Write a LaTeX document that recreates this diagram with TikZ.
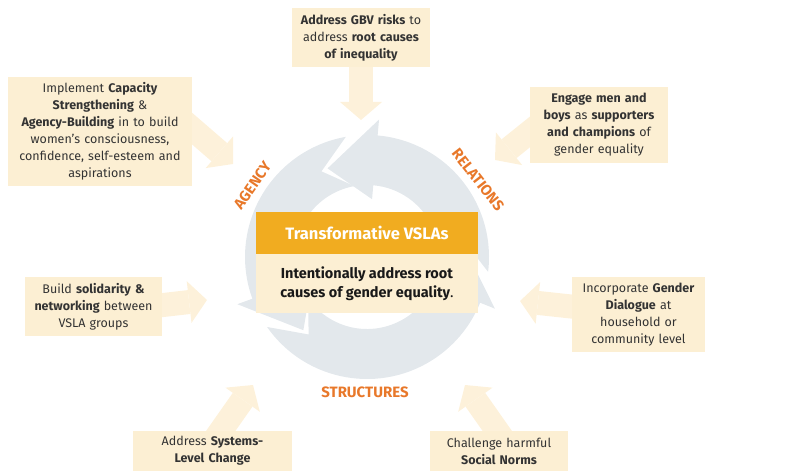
\documentclass[tikz,border=0pt]{standalone}
\usepackage{fontspec}
\setmainfont{Fira Sans}
\usetikzlibrary{arrows.meta,backgrounds}
\definecolor{boxcream}{HTML}{FCEFD3}
\definecolor{arrowcream}{HTML}{FDF1DA}
\definecolor{ringgrey}{HTML}{E3E8EC}
\definecolor{headgold}{HTML}{F1AC20}
\definecolor{lblorange}{HTML}{E8782A}
\definecolor{txtgrey}{HTML}{333333}

\newcommand{\cyclearrow}[2]{%
  \fill[ringgrey] (#1-14:122pt) arc[start angle=#1-14,end angle=#2-29,radius=122pt]
    -- (#2-29:138pt) -- (#2:97pt) -- (#2-29:58pt) -- (#2-29:72pt)
    arc[start angle=#2-29,end angle=#1-14,radius=72pt] -- (#1+4:97pt) -- cycle;}

\begin{document}
\begin{tikzpicture}[x=1pt,y=1pt,
  infobox/.style={fill=boxcream,text=txtgrey,align=center,inner sep=0pt,font=\fontsize{12.5}{17}\selectfont},
  bigarrow/.style={draw=arrowcream,line width=24pt,-{Triangle[length=18pt,width=42pt,line width=0pt,fill=arrowcream]}},
  ringlabel/.style={text=lblorange,inner sep=0pt,font=\fontsize{15}{16}\selectfont\bfseries}]
\useasboundingbox (0,0) rectangle (794,471);

\node[infobox,minimum width=138pt,minimum height=59pt,text width=136pt] (gbv) at (361,433.5)
  {\textbf{Address GBV risks} to\\address \textbf{root causes}\\\textbf{of inequality}};
\node[infobox,minimum width=184pt,minimum height=109pt,text width=182pt] (cap) at (100,339.5)
  {Implement \textbf{Capacity}\\\textbf{Strengthening} \&\\\textbf{Agency-Building} in to build\\women’s consciousness,\\confidence, self-esteem and\\aspirations};
\node[infobox,minimum width=138pt,minimum height=76pt,text width=136pt] (men) at (599,346)
  {\textbf{Engage men and}\\\textbf{boys} as \textbf{supporters}\\\textbf{and champions} of\\gender equality};
\node[infobox,minimum width=137pt,minimum height=59pt,text width=135pt] (sol) at (93.5,164.5)
  {Build \textbf{solidarity \&}\\\textbf{networking} between\\VSLA groups};
\node[infobox,minimum width=133pt,minimum height=75pt,text width=131pt] (dia) at (638.5,156.5)
  {Incorporate \textbf{Gender}\\\textbf{Dialogue} at\\household or\\community level};
\node[infobox,minimum width=159pt,minimum height=40pt,text width=157pt] (sys) at (212.5,20)
  {Address \textbf{Systems-}\\\textbf{Level Change}};
\node[infobox,minimum width=138pt,minimum height=40pt,text width=136pt] (norm) at (499,20)
  {Challenge harmful\\\textbf{Social Norms}};

\node[fill=headgold,text=white,inner sep=0pt,minimum width=222pt,minimum height=42pt,
  font=\fontsize{16.5}{18}\selectfont\bfseries] (head) at (367,238) {Transformative VSLAs};
\node[fill=boxcream,text=black!90,anchor=north,align=center,inner sep=0pt,minimum width=222pt,minimum height=59pt,
  font=\fontsize{14.5}{19.5}\selectfont] (core) at (head.south)
  {\textbf{Intentionally address root}\\\textbf{causes of gender equality}.};

\node[ringlabel,rotate=55] (agency) at (252.5,285.5) {AGENCY};
\node[ringlabel,rotate=-52] (relations) at (478,291) {RELATIONS};
\node[ringlabel] (structures) at (365,79) {STRUCTURES};

\coordinate (gbvtip) at (361,351);
\coordinate (captip) at (233,307);
\coordinate (mentip) at (495,311);
\coordinate (soltip) at (207,171);
\coordinate (diatip) at (520,170);
\coordinate (systip) at (253,86);
\coordinate (normtip) at (465,86);

\begin{scope}[on background layer]
\begin{scope}[shift={(367,214)}]
\cyclearrow{7}{114}
\cyclearrow{114}{229}
\cyclearrow{229}{367}
\end{scope}
\draw[bigarrow] (gbv.south) -- (gbvtip);
\draw[bigarrow] ([shift={(-17,17.5)}]cap.east) -- (captip);
\draw[bigarrow] ([shift={(20,9)}]men.west) -- (mentip);
\draw[bigarrow] ([shift={(-12,0)}]sol.east) -- (soltip);
\draw[bigarrow] ([shift={(13,6.5)}]dia.west) -- (diatip);
\draw[bigarrow] ([shift={(-1.5,-14)}]sys.north) -- (systip);
\draw[bigarrow] ([shift={(8,-14)}]norm.north) -- (normtip);
\end{scope}
\end{tikzpicture}
\end{document}
